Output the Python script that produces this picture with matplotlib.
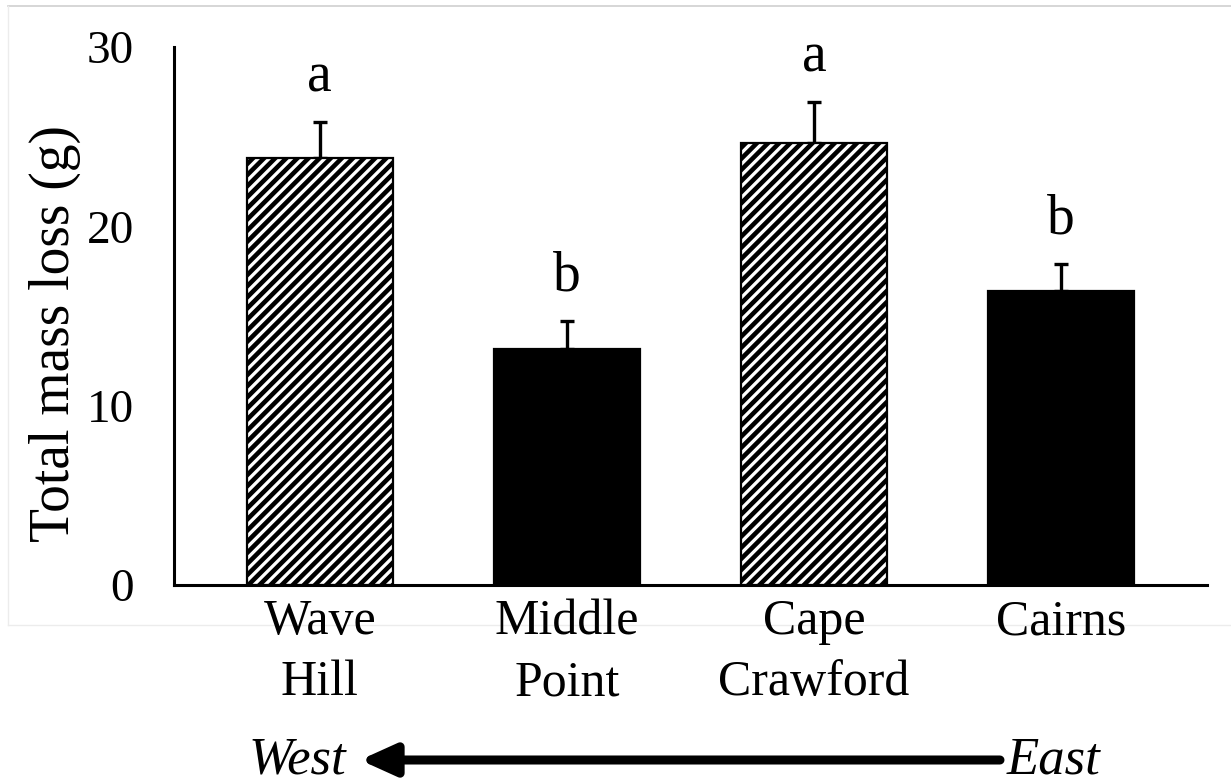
import numpy as np
import matplotlib
matplotlib.use("Agg")
import matplotlib.pyplot as plt
from matplotlib.lines import Line2D

# site means and upper standard errors (g)
sites = ["Wave\nHill", "Middle\nPoint", "Cape\nCrawford", "Cairns"]
mass_loss = [23.8, 13.16, 24.65, 16.39]
mass_err = [2.01, 1.56, 2.29, 1.51]
groups = ["a", "b", "a", "b"]
hatched = [True, False, True, False]
y_ticks = [0, 10, 20, 30]

plt.rcParams["font.family"] = ["Liberation Serif", "DejaVu Serif"]
plt.rcParams["hatch.linewidth"] = 3.3
plt.rcParams["hatch.color"] = "black"

fig = plt.figure(figsize=(12.31, 7.82), dpi=100)
ax = fig.add_axes([0.1413, 0.2519, 0.8392, 0.688])

x = np.arange(len(sites))
for xi, val, h in zip(x, mass_loss, hatched):
    ax.bar(xi, val, width=0.59,
           color="white" if h else "black",
           edgecolor="black", linewidth=1.6,
           hatch="///" if h else None, zorder=2)

ax.errorbar(x, mass_loss, yerr=[np.zeros(len(x)), mass_err],
            fmt="none", ecolor="black", elinewidth=2.4,
            capsize=5, capthick=2.4, zorder=1)

# significance letters above the error bars
for xi, val, err, g in zip(x, mass_loss, mass_err, groups):
    ax.annotate(g, xy=(xi, val + err), xytext=(0, 22),
                textcoords="offset points", ha="center", va="baseline",
                fontsize=40)

ax.set_xlim(-0.59, 3.59)
ax.set_ylim(0, 30)
ax.set_yticks(y_ticks)
ax.set_xticks(x)
ax.set_xticklabels(sites, fontsize=36, linespacing=1.4)
ax.tick_params(axis="y", length=0, pad=29, labelsize=34)
ax.tick_params(axis="x", length=0, pad=10)
ax.set_ylabel("Total mass loss (g)", fontsize=40)
ax.yaxis.set_label_coords(-0.09, 0.468)

for side in ["top", "right"]:
    ax.spines[side].set_visible(False)
for side in ["left", "bottom"]:
    ax.spines[side].set_linewidth(2.2)

# west-east direction arrow under the site labels
arrow_y = 1 - 760 / 782
ax.annotate("", xy=(360 / 1231, arrow_y), xytext=(1000 / 1231, arrow_y),
            xycoords="figure fraction", textcoords="figure fraction",
            arrowprops=dict(arrowstyle="-|>,head_length=2.1,head_width=0.95",
                            lw=6.5, color="black", mutation_scale=10,
                            shrinkA=0, shrinkB=0))
fig.text(297 / 1231, arrow_y, "West", style="italic", fontsize=38,
         ha="center", va="center")
fig.text(1053 / 1231, arrow_y, "East", style="italic", fontsize=38,
         ha="center", va="center")

# faint frame around the chart area, kept behind the labels
fig.add_artist(Line2D([8 / 1231, 1], [1 - 6 / 782] * 2, zorder=-1,
                      transform=fig.transFigure, color="#d0d0d0", lw=1.2))
fig.add_artist(Line2D([8 / 1231] * 2, [1 - 6 / 782, 1 - 625 / 782], zorder=-1,
                      transform=fig.transFigure, color="#ececec", lw=1))
fig.add_artist(Line2D([8 / 1231, 1], [1 - 625 / 782] * 2, zorder=-1,
                      transform=fig.transFigure, color="#ececec", lw=1))

fig.savefig("out.png", dpi=100)
